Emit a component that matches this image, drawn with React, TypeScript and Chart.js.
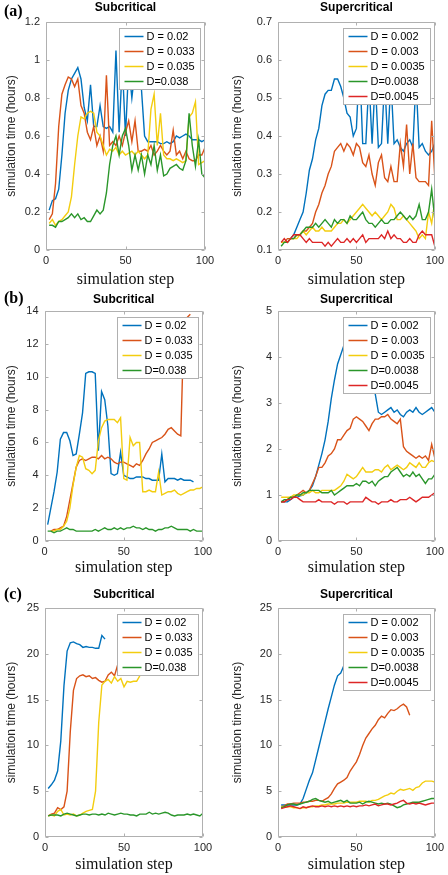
import React, { useEffect, useRef } from "react";
import { Chart, registerables } from "chart.js";

Chart.register(...registerables);

// ---------- data ----------
const STEPS = [
  2, 4, 6, 8, 10, 12, 14, 16, 18, 20,
  22, 24, 26, 28, 30, 32, 34, 36, 38, 40,
  42, 44, 46, 48, 50, 52, 54, 56, 58, 60,
  62, 64, 66, 68, 70, 72, 74, 76, 78, 80,
  82, 84, 86, 88, 90, 92, 94, 96, 98, 100,
];

const SUB_LABELS = ["D = 0.02", "D = 0.033", "D = 0.035", "D=0.038"];
const SUP_LABELS = ["D = 0.002", "D = 0.003", "D = 0.0035", "D=0.0038", "D=0.0045"];

const PANEL_TITLES = ["Subcritical", "Supercritical"];
const PANEL_TAGS = ["(a)", "(b)", "(c)"];
const X_TITLE = "simulation step";
const Y_TITLE = "simulation time (hours)";

// (a) subcritical
const A_SUB_D020 = [
  0.21, 0.26, 0.27, 0.32, 0.5, 0.72, 0.84, 0.9, 0.93, 0.96,
  0.9, 0.75, 0.68, 0.87, 0.65, 0.65, 0.76, 0.65, 0.64, 0.65,
  0.62, 1.05, 0.62, 0.98, 0.6, 0.97, 0.8, 0.95, 0.9, 0.85,
  0.6, 0.57, 0.57, 0.57, 0.57, 0.56, 0.56, 0.57, 0.56, 0.57,
  0.6, 0.59, 0.6, 0.61, 0.6, 0.58, 0.58, 0.58, 0.57, 0.58,
];
const A_SUB_D033 = [
  0.16, 0.19, 0.35, 0.65, 0.82, 0.87, 0.91, 0.9, 0.86, 0.9,
  0.76, 0.72, 0.62, 0.58, 0.65, 0.55, 0.6, 0.52, 0.92, 0.55,
  0.57, 0.55, 0.6, 0.55, 0.62, 0.68, 0.57, 0.68, 0.52, 0.52,
  0.53, 0.52, 0.55, 0.5, 0.52, 0.55, 0.52, 0.5, 0.52, 0.63,
  0.5, 0.52, 0.48, 0.52, 0.48, 0.47, 0.47, 0.5, 0.5, 0.54,
];
const A_SUB_D035 = [
  0.14, 0.16, 0.13, 0.15, 0.16, 0.18, 0.2, 0.28, 0.45, 0.6,
  0.7, 0.69, 0.72, 0.73, 0.72, 0.62, 0.6, 0.55, 0.5, 0.53,
  0.52, 0.54, 0.5, 0.52, 0.5, 0.51, 0.52, 0.5, 0.52, 0.5,
  0.48, 0.5, 0.74, 0.82, 0.55, 0.72, 0.5, 0.48, 0.48, 0.47,
  0.48, 0.47, 0.46, 0.47, 0.7, 0.72, 0.78, 0.45, 0.46, 0.47,
];
const A_SUB_D038 = [
  0.13, 0.13, 0.12, 0.15, 0.15, 0.16, 0.17, 0.19, 0.17, 0.19,
  0.16, 0.17, 0.15, 0.15, 0.18, 0.21, 0.19, 0.21, 0.3, 0.45,
  0.55, 0.6, 0.5, 0.6, 0.64, 0.55, 0.42, 0.5, 0.42, 0.5,
  0.4, 0.5, 0.45, 0.55, 0.42, 0.5, 0.39, 0.4, 0.43, 0.44,
  0.45, 0.43, 0.42, 0.47, 0.72, 0.55, 0.44, 0.58, 0.4, 0.38,
];

// (a) supercritical
const A_SUP_D0020 = [
  0.12, 0.12, 0.12, 0.13, 0.14, 0.16, 0.18, 0.2, 0.25, 0.31,
  0.34, 0.39, 0.42, 0.48, 0.51, 0.52, 0.52, 0.55, 0.55, 0.53,
  0.5, 0.46, 0.45, 0.4, 0.42, 0.6, 0.38, 0.38, 0.55, 0.38,
  0.55, 0.37, 0.38, 0.55, 0.38, 0.55, 0.38, 0.39, 0.37, 0.36,
  0.38, 0.39, 0.37, 0.55, 0.37, 0.38, 0.36, 0.35, 0.36, 0.38,
];
const A_SUP_D0030 = [
  0.12, 0.12, 0.13, 0.13, 0.13, 0.14, 0.14, 0.15, 0.15, 0.16,
  0.17, 0.2, 0.22, 0.25, 0.27, 0.3, 0.32, 0.36, 0.37, 0.38,
  0.36, 0.38, 0.37, 0.35, 0.38, 0.37, 0.33, 0.32, 0.35, 0.3,
  0.27, 0.33, 0.35, 0.29, 0.28, 0.32, 0.28, 0.28, 0.38, 0.32,
  0.43, 0.3, 0.38, 0.29, 0.28, 0.28, 0.28, 0.27, 0.44, 0.29,
];
const A_SUP_D0035 = [
  0.12, 0.12, 0.12, 0.13, 0.13, 0.13, 0.14, 0.15, 0.14, 0.15,
  0.16, 0.15, 0.15, 0.16, 0.15, 0.15, 0.15, 0.16, 0.17, 0.17,
  0.18, 0.17, 0.18, 0.19, 0.2, 0.21, 0.22, 0.21, 0.2, 0.19,
  0.2, 0.19, 0.18, 0.19, 0.2, 0.22, 0.21, 0.18, 0.18, 0.19,
  0.18, 0.17, 0.16, 0.15, 0.13, 0.14, 0.13, 0.2, 0.17, 0.23,
];
const A_SUP_D0038 = [
  0.11, 0.12, 0.12, 0.13, 0.13, 0.14, 0.14, 0.15, 0.16, 0.16,
  0.16, 0.17, 0.16, 0.17, 0.18, 0.17, 0.16, 0.18, 0.17, 0.18,
  0.18, 0.17, 0.19, 0.18, 0.18, 0.19, 0.2, 0.18, 0.17, 0.17,
  0.16, 0.17, 0.18, 0.17, 0.17, 0.18, 0.18, 0.19, 0.2, 0.19,
  0.18, 0.19, 0.18, 0.19, 0.22, 0.18, 0.18, 0.2, 0.26, 0.18,
];
const A_SUP_D0045 = [
  0.12, 0.13, 0.12, 0.13, 0.14, 0.14, 0.14, 0.13, 0.12, 0.13,
  0.12, 0.12, 0.12, 0.12, 0.11, 0.12, 0.11, 0.12, 0.13, 0.12,
  0.12, 0.13, 0.12, 0.13, 0.12, 0.13, 0.14, 0.12, 0.13, 0.13,
  0.13, 0.13, 0.14, 0.13, 0.15, 0.13, 0.14, 0.13, 0.13, 0.12,
  0.12, 0.13, 0.12, 0.12, 0.14, 0.15, 0.14, 0.14, 0.14, 0.11,
];

// (b) subcritical
const B_SUB_D020 = [
  1.0, 2.0, 3.0, 4.2, 6.2, 6.6, 6.6, 6.1, 5.2, 5.3,
  6.5, 7.8, 10.2, 10.3, 10.3, 10.2, 5.5, 9.1, 8.6, 7.0,
  4.1, 4.0, 4.1, 5.4, 4.0, 3.9, 3.8, 3.8, 3.9, 3.9,
  3.9, 3.8, 3.8, 3.7, 3.7, 3.7, 5.3, 3.6, 3.8, 3.8,
  3.8, 3.7, 3.8, 3.7, 3.7, 3.7, 3.6,
];
const B_SUB_D033 = [
  null, 0.6, 0.7, 0.7, 0.8, 0.9, 1.5, 2.5, 3.5, 4.5,
  4.9, 5.0, 4.9, 5.0, 5.1, 5.1, 5.0, 5.2, 5.0, 5.1,
  5.0, 4.8, 4.7, 4.8, 4.8, 4.7, 4.6, 4.5, 4.7, 4.6,
  4.9, 5.3, 5.6, 6.0, 6.1, 6.2, 6.3, 6.5, 6.8, 6.9,
  6.7, 6.5, 6.4, 13.4, 13.6, 13.8,
];
const B_SUB_D035 = [
  null, 0.6, 0.6, 0.7, 0.7, 0.9, 1.2, 2.0, 3.4, 4.5,
  5.2, 5.1, 4.4, 4.3, 4.1, 4.3, 6.1, 6.9, 7.3, 7.4,
  7.4, 7.4, 7.2, 7.5, 3.8, 3.7, 6.3, 5.8, 6.0, 6.0,
  3.0, 3.0, 3.1, 3.0, 3.0, 4.2, 2.8, 2.9, 3.0, 3.0,
  3.1, 2.9, 2.8, 2.9, 3.0, 3.1, 3.1, 3.2, 3.2, 3.3,
];
const B_SUB_D038 = [
  0.6, 0.6, 0.5, 0.6, 0.6, 0.7, 0.8, 0.7, 0.7, 0.6,
  0.6, 0.6, 0.6, 0.6, 0.6, 0.7, 0.6, 0.7, 0.8, 0.7,
  0.7, 0.8, 0.7, 0.8, 0.7, 0.8, 0.8, 0.9, 0.8, 0.8,
  0.7, 0.8, 0.7, 0.7, 0.6, 0.7, 0.7, 0.8, 0.8, 0.9,
  0.8, 0.7, 0.7, 0.7, 0.7, 0.6, 0.7, 0.6, 0.6, 0.6,
];

// (b) supercritical
const B_SUP_D0020 = [
  0.85, 0.85, 0.85, 0.9, 0.95, 0.95, 0.98, 1.0, 1.05, 1.1,
  1.2, 1.4, 1.65, 1.9, 2.2, 2.6, 3.1, 3.5, 3.85, 4.05,
  4.25, 4.45, 4.6, 4.7, 4.8, 4.7, 4.6, 4.5, 4.3, 4.0,
  3.2, 2.8, 2.75, 2.8, 2.85, 2.9, 2.8, 2.85, 2.75, 2.7,
  2.8, 2.85, 2.8, 2.9, 2.8, 2.75, 2.8, 2.85, 2.9, 2.8,
];
const B_SUP_D0030 = [
  0.85, 0.85, 0.9, 0.95, 0.95, 1.0, 1.05, 1.1, 1.05, 1.1,
  1.25, 1.4, 1.6, 1.6, 1.7, 1.85, 1.9, 2.0, 2.2, 2.2,
  2.3, 2.4, 2.45, 2.65, 2.7, 2.65, 2.6, 2.5, 2.4, 2.55,
  2.65, 2.65, 2.7, 2.7, 2.75, 2.65, 2.6, 2.55, 2.65, 2.05,
  1.95, 1.9, 1.85, 1.8, 1.85, 1.8, 1.85, 1.75, 2.1, 1.8,
];
const B_SUP_D0035 = [
  0.95, 0.95, 0.95, 0.95, 1.0, 1.0, 1.0, 1.0, 1.05, 1.05,
  1.1, 1.05, 1.05, 1.1, 1.1, 1.1, 1.1, 1.1, 1.15, 1.2,
  1.3, 1.45, 1.4, 1.35, 1.4, 1.5, 1.6, 1.5, 1.5, 1.5,
  1.55, 1.55, 1.5, 1.6, 1.65, 1.55, 1.6, 1.65, 1.6, 1.55,
  1.6, 1.7, 1.65, 1.6, 1.7, 1.6, 1.6, 1.7, 1.75, 1.72,
];
const B_SUP_D0038 = [
  0.85, 0.9, 0.9, 0.95, 0.95, 1.0, 1.0, 1.05, 1.05, 1.1,
  1.1, 1.1, 1.1, 1.05, 1.05, 1.05, 1.1, 1.0, 1.05, 1.1,
  1.15, 1.2, 1.2, 1.2, 1.25, 1.2, 1.3, 1.3, 1.25, 1.3,
  1.2, 1.3, 1.35, 1.4, 1.4, 1.5, 1.55, 1.6, 1.5, 1.4,
  1.45, 1.4, 1.5, 1.4, 1.45, 1.35, 1.25, 1.35, 1.35, 1.45,
];
const B_SUP_D0045 = [
  0.85, 0.85, 0.9, 0.9, 0.95, 0.95, 0.9, 0.85, 0.85, 0.85,
  0.85, 0.85, 0.9, 0.85, 0.85, 0.85, 0.85, 0.8, 0.85, 0.85,
  0.85, 0.8, 0.85, 0.85, 0.85, 0.85, 0.85, 0.95, 0.9, 0.85,
  0.85, 0.8, 0.85, 0.85, 0.85, 0.9, 0.85, 0.85, 0.9, 0.9,
  0.9, 0.95, 0.9, 0.85, 0.9, 0.95, 0.95, 0.95, 1.0, 1.05,
];

// (c) subcritical
const C_SUB_D020 = [
  5.3, 5.7, 6.2, 7.2, 10.5, 16.5, 20.3, 21.2, 21.3, 21.1,
  21.0, 20.7, 20.8, 20.7, 20.7, 20.6, 20.6, 22.0, 21.6,
];
const C_SUB_D033 = [
  2.3, 2.5, 2.6, 3.2, 3.0, 3.3, 5.0, 11.5, 16.0, 17.3,
  17.6, 17.7, 17.5, 17.6, 17.3, 17.4, 17.1, 16.9, 17.0, 17.7,
  18.0, 17.6, 18.8, 19.2,
];
const C_SUB_D035 = [
  2.3, 2.4, 2.3, 2.8, 3.0, 2.4, 2.5, 2.4, 2.5, 2.3,
  2.4, 2.6, 2.8, 2.9, 3.0, 5.0, 12.5, 16.6, 17.0, 17.2,
  16.8, 17.5, 17.0, 17.3, 16.4, 17.0, 16.9, 17.0, 17.0, 17.6,
];
const C_SUB_D038 = [
  2.3, 2.4, 2.4, 2.4, 2.3, 2.5, 2.6, 2.5, 2.4, 2.3,
  2.4, 2.5, 2.5, 2.4, 2.5, 2.5, 2.4, 2.5, 2.4, 2.6,
  2.5, 2.4, 2.5, 2.6, 2.5, 2.5, 2.4, 2.4, 2.3, 2.5,
  2.5, 2.5, 2.7, 2.5, 2.6, 2.5, 2.6, 2.7, 2.6, 2.4,
  2.3, 2.4, 2.4, 2.4, 2.5, 2.4, 2.5, 2.4, 2.3, 2.6,
];

// (c) supercritical
const C_SUP_D0020 = [
  3.5, 3.5, 3.5, 3.5, 3.5, 3.5, 3.6, 4.2, 5.2, 6.2,
  7.0, 8.4, 9.8, 11.2, 12.6, 14.0, 15.3, 16.6, 17.6, 17.9,
  18.7, 19.2, 20.0,
];
const C_SUP_D0030 = [
  3.3, 3.4, 3.6, 3.6, 3.7, 3.7, 3.7, 3.8, 3.8, 3.9,
  3.9, 4.0, 4.0, 3.9, 4.1, 4.3, 4.7, 5.3, 5.8, 6.0,
  6.2, 6.5, 7.2, 7.7, 8.2, 9.0, 10.0, 10.8, 11.3, 11.8,
  12.2, 12.8, 13.2, 13.0, 13.5, 13.9, 13.8, 14.0, 14.3, 14.5,
  14.2, 13.3,
];
const C_SUP_D0035 = [
  3.3, 3.3, 3.3, 3.3, 3.2, 3.2, 3.1, 3.2, 3.2, 3.3,
  3.3, 3.4, 3.4, 3.5, 3.5, 3.6, 3.6, 3.6, 3.7, 3.7,
  3.7, 3.8, 3.8, 3.8, 3.8, 3.9, 3.9, 3.9, 3.8, 4.0,
  4.0, 4.1, 4.3, 4.5, 4.6, 4.8, 4.7, 5.0, 5.2, 5.1,
  5.2, 5.3, 5.1, 5.4, 5.5, 5.9, 6.1, 6.1, 6.1, 6.0,
];
const C_SUP_D0038 = [
  3.2, 3.3, 3.5, 3.6, 3.6, 3.5, 3.6, 3.7, 3.8, 3.9,
  4.1, 4.2, 4.0, 3.9, 3.8, 3.9, 3.7, 3.8, 3.9, 4.0,
  3.8, 4.0, 3.7, 3.7, 3.7, 3.8, 3.6, 3.8, 3.9, 3.8,
  3.7, 3.6, 3.7, 3.6, 3.7, 3.6, 3.4, 3.2, 3.3, 3.5,
  3.6, 3.7, 3.8, 3.8, 3.8, 3.9, 4.0, 4.1, 4.2, 4.2,
];
const C_SUP_D0045 = [
  3.1, 3.2, 3.3, 3.4, 3.3, 3.2, 3.1, 3.3, 3.2, 3.3,
  3.4, 3.3, 3.3, 3.4, 3.3, 3.4, 3.3, 3.4, 3.3, 3.4,
  3.3, 3.4, 3.3, 3.4, 3.3, 3.4, 3.4, 3.5, 3.4, 3.5,
  3.6, 3.4, 3.5, 3.6, 3.6, 3.5, 3.6, 3.7, 3.9, 4.0,
  3.7, 3.6, 3.7, 3.6, 3.7, 3.6, 3.5, 3.6, 3.7, 3.7,
];

// y axis ranges [min, max, step]
const A_SUB_Y = [0, 1.2, 0.2];
const A_SUP_Y = [0.1, 0.7, 0.1];
const B_SUB_Y = [0, 14, 2];
const B_SUP_Y = [0, 5, 1];
const C_SUB_Y = [0, 25, 5];
const C_SUP_Y = [0, 25, 5];
const X_RANGE = [0, 100, 50];

// ---------- styles ----------
const COLORS = ["#0072BD", "#D95319", "#F3CD0F", "#2A962A", "#DD2626"];
const SANS = "'Liberation Sans', Arial, sans-serif";
const SERIF = "'Liberation Serif', 'Times New Roman', serif";
const AXIS_COLOR = "#b0b0b0";
const TEXT_COLOR = "#262626";
const TITLE_SIZE = 12;

type Panel = {
  left: number; top: number; w: number; h: number;
  area: { l: number; r: number; t: number; b: number };
  titleY: number; yTitlePad: number; xTitlePad: number;
  title: string; labels: string[]; series: (number | null)[][]; yr: number[];
};

const PANELS: Panel[] = [
  { left: 0, top: 0, w: 224, h: 290, area: { l: 46, r: 205, t: 22, b: 250 }, titleY: 7.5, yTitlePad: 4, xTitlePad: 1,
    title: PANEL_TITLES[0], labels: SUB_LABELS, series: [A_SUB_D020, A_SUB_D033, A_SUB_D035, A_SUB_D038], yr: A_SUB_Y },
  { left: 224, top: 0, w: 224, h: 290, area: { l: 278, r: 438, t: 22, b: 250 }, titleY: 7.5, yTitlePad: 6, xTitlePad: 1,
    title: PANEL_TITLES[1], labels: SUP_LABELS, series: [A_SUP_D0020, A_SUP_D0030, A_SUP_D0035, A_SUP_D0038, A_SUP_D0045], yr: A_SUP_Y },
  { left: 0, top: 290, w: 224, h: 290, area: { l: 44.5, r: 203, t: 311, b: 541 }, titleY: 299.8, yTitlePad: 4, xTitlePad: 2.5,
    title: PANEL_TITLES[0], labels: SUB_LABELS, series: [B_SUB_D020, B_SUB_D033, B_SUB_D035, B_SUB_D038], yr: B_SUB_Y },
  { left: 224, top: 290, w: 224, h: 290, area: { l: 278, r: 437, t: 311, b: 541 }, titleY: 299.8, yTitlePad: 6, xTitlePad: 2.5,
    title: PANEL_TITLES[1], labels: SUP_LABELS, series: [B_SUP_D0020, B_SUP_D0030, B_SUP_D0035, B_SUP_D0038, B_SUP_D0045], yr: B_SUP_Y },
  { left: 0, top: 580, w: 224, h: 295, area: { l: 45, r: 203, t: 608, b: 837 }, titleY: 594.8, yTitlePad: 4, xTitlePad: 1,
    title: PANEL_TITLES[0], labels: SUB_LABELS, series: [C_SUB_D020, C_SUB_D033, C_SUB_D035, C_SUB_D038], yr: C_SUB_Y },
  { left: 224, top: 580, w: 224, h: 295, area: { l: 278, r: 437, t: 608, b: 837 }, titleY: 594.8, yTitlePad: 6, xTitlePad: 1,
    title: PANEL_TITLES[1], labels: SUP_LABELS, series: [C_SUP_D0020, C_SUP_D0030, C_SUP_D0035, C_SUP_D0038, C_SUP_D0045], yr: C_SUP_Y },
];

const TAG_POS = [3, 290, 586];

const fmtTick = (v: any) => String(Number(Number(v).toFixed(4)));

// ---------- plugin: MATLAB-style box, inward ticks, legend ----------
const framePlugin = {
  id: "matlabFrame",
  afterDatasetsDraw(chart: any) {
    const { ctx, chartArea: a } = chart;
    const xs = chart.scales.x;
    const ys = chart.scales.y;
    const L = Math.round(a.left) + 0.5;
    const R = Math.round(a.right) - 0.5;
    const T = Math.round(a.top) + 0.5;
    const B = Math.round(a.bottom) - 0.5;
    ctx.save();
    ctx.strokeStyle = AXIS_COLOR;
    ctx.lineWidth = 1;
    ctx.beginPath();
    ctx.rect(L, T, R - L, B - T);
    const tl = 3;
    for (const t of xs.ticks) {
      const p = Math.round(xs.getPixelForValue(t.value)) + 0.5;
      ctx.moveTo(p, B); ctx.lineTo(p, B - tl);
      ctx.moveTo(p, T); ctx.lineTo(p, T + tl);
    }
    for (const t of ys.ticks) {
      const p = Math.round(ys.getPixelForValue(t.value)) + 0.5;
      ctx.moveTo(L, p); ctx.lineTo(L + tl, p);
      ctx.moveTo(R, p); ctx.lineTo(R - tl, p);
    }
    ctx.stroke();

    // legend
    const ds = chart.data.datasets;
    ctx.font = `11px ${SANS}`;
    const tw = Math.max(...ds.map((d: any) => ctx.measureText(d.label).width));
    const w = Math.round(5 + 19 + 3 + tw + 6);
    const rowH = 15;
    const h = 8 + (ds.length - 1) * rowH + 8;
    const bx = Math.round(a.right - 5 - w) + 0.5;
    const by = Math.round(a.top + 6) + 0.5;
    ctx.fillStyle = "#ffffff";
    ctx.fillRect(bx, by, w, h);
    ctx.strokeStyle = AXIS_COLOR;
    ctx.strokeRect(bx, by, w, h);
    ds.forEach((d: any, i: number) => {
      const cy = by + 8 + i * rowH;
      ctx.strokeStyle = d.borderColor;
      ctx.lineWidth = 1.5;
      ctx.beginPath();
      ctx.moveTo(bx + 5, cy);
      ctx.lineTo(bx + 24, cy);
      ctx.stroke();
      ctx.fillStyle = "#000000";
      ctx.textBaseline = "middle";
      ctx.textAlign = "left";
      ctx.fillText(d.label, bx + 27, cy + 0.5);
    });
    ctx.restore();
  },
};

function buildConfig(p: Panel): any {
  const yAxisW = p.area.l - p.left;
  const padRight = p.left + p.w - p.area.r;
  const xAxisH = p.top + p.h - p.area.b;
  const chartTop = p.area.t - p.top;
  const titleLH = TITLE_SIZE * 1.2;
  const layoutTop = Math.max(0, p.titleY - p.top - titleLH / 2);
  const titleBottom = chartTop - layoutTop - titleLH;
  const n = p.series.length;
  return {
    type: "line",
    data: {
      datasets: p.series.map((vals, i) => ({
        label: p.labels[i],
        data: STEPS.map((x, j) => ({ x, y: vals[j] ?? null })),
        borderColor: COLORS[i],
        backgroundColor: COLORS[i],
        borderWidth: 1.4,
        pointRadius: 0,
        pointHoverRadius: 0,
        tension: 0,
        fill: false,
        spanGaps: false,
        order: n - i,
      })),
    },
    options: {
      animation: false,
      responsive: false,
      maintainAspectRatio: false,
      events: [],
      layout: { padding: { top: layoutTop, right: padRight, left: 0, bottom: 0 } },
      plugins: {
        legend: { display: false },
        tooltip: { enabled: false },
        title: {
          display: true,
          text: p.title,
          fullSize: false,
          color: "#000000",
          font: { family: SANS, size: TITLE_SIZE, weight: "bold", lineHeight: 1.2 },
          padding: { top: 0, bottom: titleBottom },
        },
      },
      scales: {
        x: {
          type: "linear",
          min: X_RANGE[0],
          max: X_RANGE[1],
          grid: { display: false, drawTicks: false },
          border: { display: false },
          ticks: {
            stepSize: X_RANGE[2],
            autoSkip: false,
            maxRotation: 0,
            padding: 4,
            color: TEXT_COLOR,
            font: { family: SANS, size: 11 },
            callback: fmtTick,
          },
          title: {
            display: true,
            text: X_TITLE,
            color: "#111111",
            font: { family: SERIF, size: 16, lineHeight: 1.2 },
            padding: { top: 0, bottom: p.xTitlePad },
          },
          afterFit: (s: any) => { s.height = xAxisH; },
        },
        y: {
          type: "linear",
          min: p.yr[0],
          max: p.yr[1],
          grid: { display: false, drawTicks: false },
          border: { display: false },
          ticks: {
            stepSize: p.yr[2],
            autoSkip: false,
            padding: 6,
            color: TEXT_COLOR,
            font: { family: SANS, size: 11 },
            callback: fmtTick,
          },
          title: {
            display: true,
            text: Y_TITLE,
            color: TEXT_COLOR,
            font: { family: SANS, size: 12, lineHeight: 1.2 },
            padding: { top: p.yTitlePad, bottom: 0 },
          },
          afterFit: (s: any) => { s.width = yAxisW; },
        },
      },
    },
    plugins: [framePlugin],
  };
}

function PanelChart({ p }: { p: Panel }) {
  const ref = useRef<HTMLCanvasElement>(null);
  useEffect(() => {
    if (!ref.current) return;
    const chart = new Chart(ref.current, buildConfig(p));
    return () => chart.destroy();
  }, [p]);
  return (
    <canvas
      ref={ref}
      width={p.w}
      height={p.h}
      style={{ position: "absolute", left: p.left, top: p.top, width: p.w, height: p.h }}
    />
  );
}

export default function App() {
  return (
    <div style={{ position: "absolute", left: 0, top: 0, width: 448, height: 875, background: "#ffffff", overflow: "hidden" }}>
      {PANELS.map((p, i) => (
        <PanelChart key={i} p={p} />
      ))}
      {PANEL_TAGS.map((t, i) => (
        <div
          key={t}
          style={{
            position: "absolute",
            left: 4,
            top: TAG_POS[i],
            fontFamily: SERIF,
            fontWeight: "bold",
            fontSize: 16,
            lineHeight: "16px",
            color: "#000",
          }}
        >
          {t}
        </div>
      ))}
    </div>
  );
}
